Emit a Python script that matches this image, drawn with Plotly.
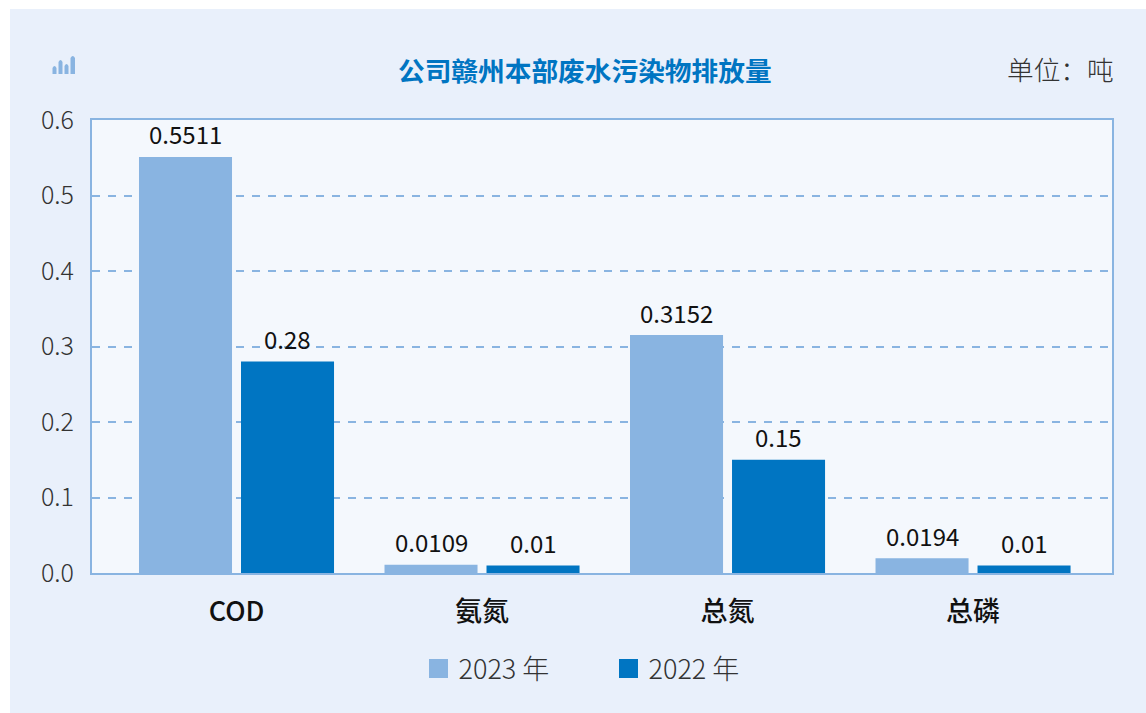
import plotly.graph_objects as go

categories = ["COD", "氨氮", "总氮", "总磷"]
series_2023 = [0.5511, 0.0109, 0.3152, 0.0194]
series_2022 = [0.28, 0.01, 0.15, 0.01]
labels_2023 = ["0.5511", "0.0109", "0.3152", "0.0194"]
labels_2022 = ["0.28", "0.01", "0.15", "0.01"]
y_ticks = [0, 0.1, 0.2, 0.3, 0.4, 0.5, 0.6]
y_tick_labels = ["0.0", "0.1", "0.2", "0.3", "0.4", "0.5", "0.6"]

LIGHT = "#89B4E1"
DARK = "#0075C2"
PANEL = "#E9F0FB"
PLOT = "#F4F8FD"
FONT = "Noto Sans CJK SC"
W, H = 1146, 713
L, R, T, B = 92, 1112, 120, 573


def px(x):
    return (x - L) / (R - L)


def py(y):
    return (B - y) / (B - T)


fig = go.Figure()
value_labels = []
for name, vals, labs, col, shift in [("2023 年", series_2023, labels_2023, LIGHT, -51),
                                     ("2022 年", series_2022, labels_2022, DARK, 51)]:
    fig.add_bar(x=categories, y=vals, name=name, marker_color=col, marker_line_width=0,
                showlegend=False, cliponaxis=False)
    fig.add_scatter(x=categories, y=[None] * 4, mode="markers", name=name,
                    marker=dict(symbol="square", size=16, color=col, line=dict(color=col, width=3)))
    for c, v, t in zip(categories, vals, labs):
        value_labels.append(dict(x=c, y=v, text=t, xref="x", yref="y", showarrow=False, xshift=shift,
                                 yshift=23, xanchor="center", yanchor="middle",
                                 font=dict(family=FONT, size=24, color="#111111")))

icon = []
for x0, x1, top in [(52.5, 56.5, 66), (58.5, 62.5, 60), (64.5, 68.5, 64), (70.5, 75, 56)]:
    xa, xb, xm = px(x0), px(x1), px((x0 + x1) / 2)
    icon.append(dict(type="path", xref="paper", yref="paper", fillcolor=LIGHT, line_width=0,
                     path=f"M{xa},{py(74)} L{xa},{py(top + 2)} Q{xm},{py(top - 2)} {xb},{py(top + 2)} L{xb},{py(74)} Z"))

white_strips = [
    dict(type="rect", xref="paper", yref="paper", layer="below", x0=px(-2), x1=px(W + 2), y0=py(9), y1=py(-2),
         fillcolor="white", line_width=0),
    dict(type="rect", xref="paper", yref="paper", layer="below", x0=px(-2), x1=px(10), y0=py(H + 2), y1=py(-2),
         fillcolor="white", line_width=0),
]

fig.update_layout(
    width=W, height=H,
    margin=dict(l=L, r=W - R, t=T, b=H - B, pad=0),
    paper_bgcolor=PANEL, plot_bgcolor=PLOT,
    font=dict(family=FONT, size=24, color="#222222"),
    bargap=0.169, bargroupgap=0.088, barmode="group",
    shapes=white_strips + icon,
    xaxis=dict(range=[-0.5886, 3.566], type="category", showgrid=False, showline=True, mirror=True,
               linecolor=LIGHT, linewidth=2, ticks="", ticklabelstandoff=14,
               tickfont=dict(family=FONT, size=27, color="#111111", weight=500)),
    yaxis=dict(range=[0, 0.6], tickvals=y_ticks, ticktext=y_tick_labels, showgrid=True,
               gridcolor=LIGHT, gridwidth=2, griddash="8px,8px", zeroline=False, showline=True,
               mirror=True, linecolor=LIGHT, linewidth=2, ticks="", ticklabelstandoff=11,
               tickfont=dict(family=FONT, size=25, color="#333333", weight=300)),
    legend=dict(orientation="h", x=0.5310, xref="container", xanchor="center", y=(H - 669) / H, yref="container",
                yanchor="middle", font=dict(family=FONT, size=27, color="#333333", weight=300), itemwidth=30,
                bgcolor="rgba(0,0,0,0)", entrywidth=145),
    annotations=value_labels + [
        dict(text="公司赣州本部废水污染物排放量", xref="paper", yref="paper", x=px(585), y=py(69),
             xanchor="center", yanchor="middle", showarrow=False,
             font=dict(family=FONT, size=26.7, color=DARK, weight=700)),
        dict(text="单位：吨", xref="paper", yref="paper", x=px(1116), y=py(68),
             xanchor="right", yanchor="middle", showarrow=False,
             font=dict(family=FONT, size=26.7, color="#333333", weight=300)),
    ],
)
fig.write_html("out.html", config={"displayModeBar": False},
               post_script="document.body.style.margin='0';document.body.style.overflow='hidden';")
